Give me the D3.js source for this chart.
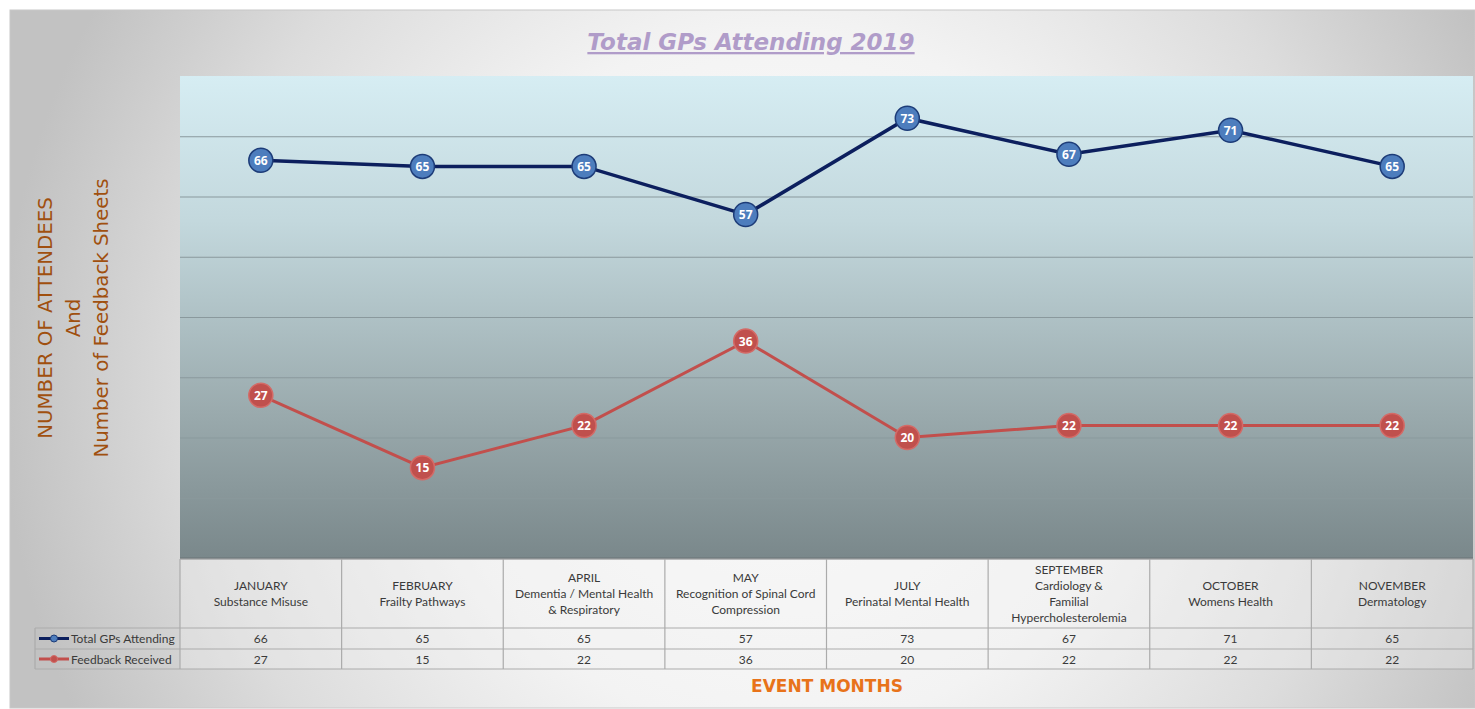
<!DOCTYPE html>
<html><head><meta charset="utf-8">
<script src="https://cdn.jsdelivr.net/npm/d3@7"></script>
<style>body{margin:0;background:#fff;}svg{display:block;}</style>
</head><body>
<script>
const months = ["JANUARY","FEBRUARY","APRIL","MAY","JULY","SEPTEMBER","OCTOBER","NOVEMBER"];
const topics = [["Substance Misuse"],["Frailty Pathways"],["Dementia / Mental Health","& Respiratory"],["Recognition of Spinal Cord","Compression"],["Perinatal Mental Health"],["Cardiology &","Familial","Hypercholesterolemia"],["Womens Health"],["Dermatology"]];
const gpsAttending = [66,65,65,57,73,67,71,65];
const feedbackReceived = [27,15,22,36,20,22,22,22];
const yTicks = [0,10,20,30,40,50,60,70,80];
const seriesNames = ["Total GPs Attending","Feedback Received"];

const W=1475,H=709;
const svg=d3.select("body").append("svg").attr("width",W).attr("height",H);
const defs=svg.append("defs");
const bg=defs.append("radialGradient").attr("id","bg").attr("gradientUnits","userSpaceOnUse")
  .attr("cx",780).attr("cy",380).attr("r",780);
bg.append("stop").attr("offset","0").attr("stop-color","#ffffff");
bg.append("stop").attr("offset","0.45").attr("stop-color","#f3f3f3");
bg.append("stop").attr("offset","0.75").attr("stop-color","#dcdcdc");
bg.append("stop").attr("offset","1").attr("stop-color","#c2c2c2");
const pg=defs.append("linearGradient").attr("id","pg").attr("x1",0).attr("y1",0).attr("x2",0).attr("y2",1);
pg.append("stop").attr("offset","0").attr("stop-color","#d6edf3");
pg.append("stop").attr("offset","0.3").attr("stop-color","#c3d8dd");
pg.append("stop").attr("offset","0.7").attr("stop-color","#9aaaad");
pg.append("stop").attr("offset","1").attr("stop-color","#7a888b");

svg.append("rect").attr("x",10).attr("y",10).attr("width",1465).attr("height",698)
  .attr("fill","url(#bg)").attr("stroke","#c8c8c8");

const x0=180,x1=1473,yTop=76,yBot=558;
const x=d3.scaleBand().domain(months).range([x0,x1]);
const y=d3.scaleLinear().domain([0,80]).range([yBot,yTop]);

svg.append("rect").attr("x",x0).attr("y",yTop).attr("width",x1-x0).attr("height",yBot-yTop).attr("fill","url(#pg)");
const yAxis=d3.axisLeft(y).tickValues(yTicks).tickSize(-(x1-x0)).tickFormat("");
const ga=svg.append("g").attr("transform",`translate(${x0},0)`).call(yAxis);
ga.select(".domain").remove();
ga.selectAll(".tick line").attr("stroke",(d,i)=>d===0?"#6a7478":"#8a999d").attr("stroke-width",(d)=>d===0?2:1.2)
  .attr("stroke-opacity",d=>d===80?0:1);

// title
svg.append("text").attr("x",751).attr("y",50).attr("text-anchor","middle")
  .attr("font-family","'DejaVu Sans'").attr("font-style","italic").attr("font-weight","bold")
  .attr("font-size",23).attr("fill","#b09cc9").attr("text-decoration","underline").text("Total GPs Attending 2019");

// y title
const yt=svg.append("text").attr("transform","translate(73,318) rotate(-90)").attr("text-anchor","middle")
  .attr("font-family","'DejaVu Sans'").attr("font-size",19.8).attr("fill","#a0500f");
[["NUMBER OF ATTENDEES",-28],["And",0],["Number of Feedback Sheets",28]].forEach(([t,dy])=>{
  yt.append("tspan").attr("x",0).attr("y",dy+7).text(t);
});

// lines
const series=[
  {name:seriesNames[0],vals:gpsAttending,line:"#0c1f5e",fill:"#4d7dbd",stroke:"#1d3c78",w:3.5},
  {name:seriesNames[1],vals:feedbackReceived,line:"#c24f4c",fill:"#c0504d",stroke:"#d46a66",w:3}
];
const cx=d=>x(d)+x.bandwidth()/2;
series.forEach(s=>{
  const pts=months.map((m,i)=>[cx(m),y(s.vals[i])]);
  svg.append("path").attr("d",d3.line()(pts)).attr("fill","none").attr("stroke",s.line).attr("stroke-width",s.w);
  const g=svg.append("g").selectAll("g").data(pts).join("g").attr("transform",p=>`translate(${p[0]},${p[1]})`);
  g.append("circle").attr("r",12).attr("fill",s.fill).attr("stroke",s.stroke).attr("stroke-width",1.5);
  g.append("text").attr("text-anchor","middle").attr("dy",4.5).attr("font-family","'Open Sans'")
    .attr("font-weight","bold").attr("font-size",12).attr("fill","#fff").text((p,i)=>s.vals[i]);
});

// table
const hTop=559,hBot=628,r1=649,r2=669,lx=35;
const tb=svg.append("g");
const gridC="#ababab";
tb.append("rect").attr("x",x0).attr("y",hTop).attr("width",x1-x0).attr("height",r2-hTop).attr("fill","#f2f2f2").attr("fill-opacity",0.35);
[[x0,hTop],[lx,hBot],[lx,r1],[lx,r2]].forEach(([xs,yy])=>tb.append("line").attr("x1",xs).attr("x2",x1).attr("y1",yy).attr("y2",yy).attr("stroke",gridC).attr("stroke-width",1.2));
tb.append("line").attr("x1",lx).attr("x2",lx).attr("y1",hBot).attr("y2",r2).attr("stroke",gridC).attr("stroke-width",1.2);
months.forEach(m=>tb.append("line").attr("x1",x(m)).attr("x2",x(m)).attr("y1",hTop).attr("y2",r2).attr("stroke",gridC).attr("stroke-width",1.2));
tb.append("line").attr("x1",x1).attr("x2",x1).attr("y1",hTop).attr("y2",r2).attr("stroke",gridC).attr("stroke-width",1.2);
const tf="'Lato'",tc="#3a3a3a",fs=12;
months.forEach((m,i)=>{
  const lines=[m].concat(topics[i]);
  const n=lines.length, lh=16, mid=(hTop+hBot)/2;
  lines.forEach((t,j)=>{
    tb.append("text").attr("x",cx(m)).attr("y",mid+(j-(n-1)/2)*lh+4).attr("text-anchor","middle")
      .attr("font-family",tf).attr("font-size",fs).attr("fill",tc).text(t);
  });
  tb.append("text").attr("x",cx(m)).attr("y",(hBot+r1)/2+4.5).attr("text-anchor","middle").attr("font-family",tf).attr("font-size",fs).attr("fill",tc).text(gpsAttending[i]);
  tb.append("text").attr("x",cx(m)).attr("y",(r1+r2)/2+4.5).attr("text-anchor","middle").attr("font-family",tf).attr("font-size",fs).attr("fill",tc).text(feedbackReceived[i]);
});
series.forEach((s,k)=>{
  const yy=k===0?(hBot+r1)/2:(r1+r2)/2;
  tb.append("line").attr("x1",39).attr("x2",69).attr("y1",yy).attr("y2",yy).attr("stroke",s.line).attr("stroke-width",3);
  tb.append("circle").attr("cx",54).attr("cy",yy).attr("r",3.5).attr("fill",s.fill).attr("stroke",s.stroke);
  tb.append("text").attr("x",71).attr("y",yy+4.5).attr("font-family",tf).attr("font-size",fs).attr("fill",tc).text(s.name);
});

// x title
svg.append("text").attr("x",827).attr("y",692).attr("text-anchor","middle").attr("font-family","'DejaVu Sans'")
  .attr("font-weight","bold").attr("font-size",17).attr("fill","#e8731a").text("EVENT MONTHS");
</script>
</body></html>
